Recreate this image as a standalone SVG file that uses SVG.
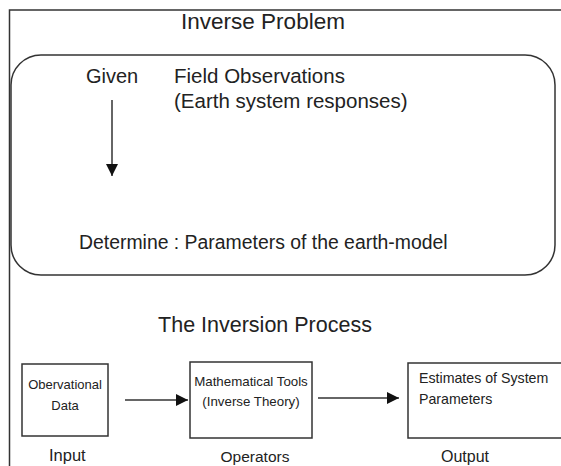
<svg xmlns="http://www.w3.org/2000/svg" width="561" height="466" viewBox="0 0 561 466">
<defs>
<style>
.t{font-family:"Liberation Sans",Arial,sans-serif;fill:#222;}
.ln{fill:none;stroke:#333;stroke-width:1.5;}
.bx{fill:#fff;stroke:#333;stroke-width:1.5;}
</style>
<marker id="ah" viewBox="0 0 12 12" refX="12" refY="6" markerWidth="12" markerHeight="12" markerUnits="userSpaceOnUse" orient="auto"><path d="M0,0 L12,6 L0,12 z" fill="#111"/></marker>
</defs>
<rect width="561" height="466" fill="#fff"/>
<g id="frame">
<path class="ln" d="M9.5,466 V10 H561"/>
</g>
<text class="t" x="263" y="29" font-size="22.5" text-anchor="middle">Inverse Problem</text>
<g id="inverse-problem">
<rect class="bx" x="11" y="55" width="544" height="220" rx="30" ry="30"/>
<text class="t" x="86" y="83" font-size="20">Given</text>
<text class="t" x="174" y="83" font-size="20.5">Field Observations</text>
<text class="t" x="174" y="108" font-size="20.5">(Earth system responses)</text>
<text class="t" x="79" y="249" font-size="19.4">Determine : Parameters of the earth-model</text>
</g>
<text class="t" x="265" y="332" font-size="21.5" text-anchor="middle">The Inversion Process</text>
<g id="obs-data">
<rect class="bx" x="22" y="364" width="86" height="72"/>
<text class="t" x="65" y="389" font-size="13" text-anchor="middle">Obervational</text>
<text class="t" x="65" y="410" font-size="13" text-anchor="middle">Data</text>
<text class="t" x="49" y="461" font-size="16.5">Input</text>
</g>
<g id="math-tools">
<rect class="bx" x="190" y="362" width="122" height="76"/>
<text class="t" x="251" y="386" font-size="13.3" text-anchor="middle">Mathematical Tools</text>
<text class="t" x="251" y="406" font-size="13.3" text-anchor="middle">(Inverse Theory)</text>
<text class="t" x="255" y="462" font-size="15.5" text-anchor="middle">Operators</text>
</g>
<g id="estimates">
<rect class="bx" x="408" y="363" width="160" height="75"/>
<text class="t" x="419" y="383" font-size="14.2">Estimates of System</text>
<text class="t" x="419" y="404" font-size="14.2">Parameters</text>
<text class="t" x="465" y="462" font-size="16" text-anchor="middle">Output</text>
</g>
<g id="connectors">
<line class="ln" x1="112" y1="100" x2="112" y2="176" marker-end="url(#ah)"/>
<line class="ln" x1="125" y1="400" x2="188" y2="400" marker-end="url(#ah)"/>
<line class="ln" x1="318" y1="398" x2="399" y2="398" marker-end="url(#ah)"/>
</g>
</svg>
